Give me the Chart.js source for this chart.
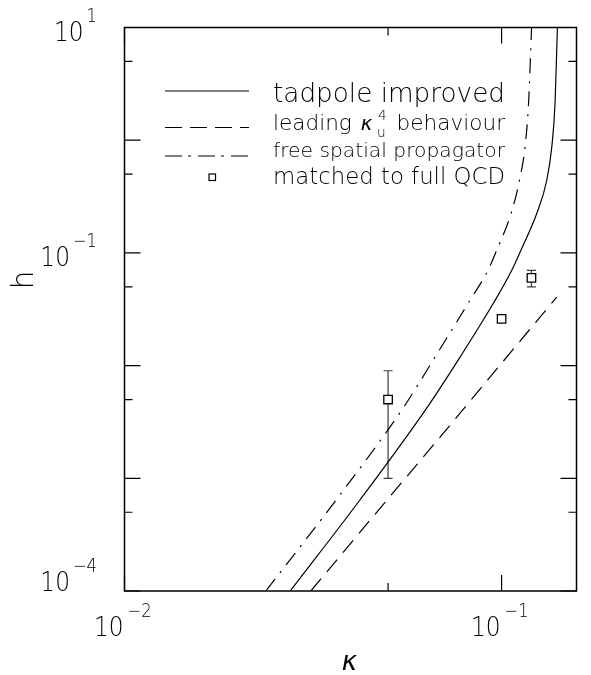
<!DOCTYPE html>
<html>
<head>
<meta charset="utf-8">
<script src="https://cdn.jsdelivr.net/npm/chart.js@4.4.1/dist/chart.umd.min.js"></script>
<style>
    html, body { margin: 0; padding: 0; background: #ffffff; }
    #chart { display: block; }
</style>
</head>
<body>
<canvas id="chart" width="591" height="675"></canvas>
<script>
/*
============================================================
Data
============================================================
*/

// tadpole improved (solid)
const tadpoleKappa = [0.0275, 0.0421, 0.0633, 0.0776, 0.0951, 0.1065, 0.1126, 0.124, 0.1318, 0.1359, 0.1386, 0.1406];
const tadpoleH = [1.0e-4, 6.42e-4, 4.2e-3, 1.19e-2, 3.57e-2, 7.05e-2, 0.106, 0.2245, 0.4435, 0.876, 2.125, 10];

// leading kappa_u^4 behaviour (dashed)
const leadingKappa = [0.0312, 0.05, 0.07, 0.1, 0.14];
const leadingH = [1.0e-4, 6.6e-4, 2.5e-3, 1.05e-2, 4.05e-2];

// free spatial propagator (dash-dot)
const freeKappa = [0.0237, 0.0364, 0.0548, 0.0666, 0.0815, 0.0921, 0.0971, 0.106, 0.1116, 0.1154, 0.1179, 0.1201];
const freeH = [1.0e-4, 6.42e-4, 4.2e-3, 1.19e-2, 3.57e-2, 7.05e-2, 0.106, 0.2245, 0.4435, 0.876, 2.125, 10];

// matched to full QCD (squares with error bars)
const qcdKappa = [0.05, 0.1, 0.12];
const qcdH = [0.005, 0.026, 0.06];
const qcdLow = [0.001, null, 0.05];
const qcdHigh = [0.009, null, 0.07];

// ticks and labels
const xTickValues = [0.01, 0.05, 0.1];
const yTickValues = [1e-4, 5e-4, 1e-3, 5e-3, 1e-2, 5e-2, 0.1, 0.5, 1, 5, 10];
const xLabelValues = [0.01, 0.1];
const xLabelExps = ["\u22122", "\u22121"];
const yLabelValues = [10, 0.1, 1e-4];
const yLabelExps = ["1", "\u22121", "\u22124"];

/*
============================================================
Styles
============================================================
*/

const FONT = "\"DejaVu Sans\", sans-serif";
const THIN = "200";
const INK = "#000000";
const DASH = [16, 9];
const DASH_DOT = [15, 8, 2, 8];

function points(xs, ys) {
    return xs.map((x, i) => ({ x: x, y: ys[i] }));
}

function isDecade(v) {
    const l = Math.log10(v);
    return Math.abs(l - Math.round(l)) < 1e-6;
}

/*
============================================================
Text helpers
============================================================
*/

// a line made of runs, stretched to a given width
function drawRuns(ctx, runs, x, y, width) {
    let total = 0;
    runs.forEach(r => {
        ctx.font = r.font;
        r.w = ctx.measureText(r.text).width + (r.gap || 0);
        if (!r.stay) total += r.w;
    });
    const sx = width / total;
    ctx.save();
    ctx.translate(x, y);
    ctx.scale(sx, 1);
    let cx = 0;
    runs.forEach(r => {
        ctx.font = r.font;
        ctx.fillText(r.text, cx + (r.dx || 0), r.dy || 0);
        if (!r.stay) cx += r.w;
    });
    ctx.restore();
}

// a word squeezed horizontally, left edge at x
function drawSqueezed(ctx, text, font, x, y, sx) {
    ctx.font = font;
    ctx.save();
    ctx.translate(x, y);
    ctx.scale(sx, 1);
    ctx.textAlign = "left";
    ctx.fillText(text, 0, 0);
    ctx.restore();
}

function widthOf(ctx, text, font, sx) {
    ctx.font = font;
    return ctx.measureText(text).width * sx;
}

/*
============================================================
Frame, ticks, labels, legend
============================================================
*/

const decorations = {
    id: "decorations",

    beforeDatasetsDraw(chart) {
        const ctx = chart.ctx;
        const xs = chart.scales.x;
        const ys = chart.scales.y;
        ctx.save();
        ctx.strokeStyle = "#3a3a3a";
        ctx.lineWidth = 1.2;
        qcdKappa.forEach((k, i) => {
            if (qcdLow[i] === null) return;
            const px = xs.getPixelForValue(k);
            const y1 = ys.getPixelForValue(qcdLow[i]);
            const y2 = ys.getPixelForValue(qcdHigh[i]);
            ctx.beginPath();
            ctx.moveTo(px, y1);
            ctx.lineTo(px, y2);
            ctx.moveTo(px - 4.5, y1);
            ctx.lineTo(px + 4.5, y1);
            ctx.moveTo(px - 4.5, y2);
            ctx.lineTo(px + 4.5, y2);
            ctx.stroke();
        });
        ctx.restore();
    },

    afterDraw(chart) {
        const ctx = chart.ctx;
        const a = chart.chartArea;
        const xs = chart.scales.x;
        const ys = chart.scales.y;

        ctx.save();
        ctx.strokeStyle = INK;
        ctx.fillStyle = INK;

        // frame
        ctx.lineWidth = 1.5;
        ctx.strokeRect(a.left, a.top, a.right - a.left, a.bottom - a.top);

        // ticks on all four sides, pointing in
        ctx.lineWidth = 1.2;
        ctx.beginPath();
        xTickValues.forEach(v => {
            const px = xs.getPixelForValue(v);
            const len = isDecade(v) ? 16 : 8;
            ctx.moveTo(px, a.bottom);
            ctx.lineTo(px, a.bottom - len);
            ctx.moveTo(px, a.top);
            ctx.lineTo(px, a.top + len);
        });
        yTickValues.forEach(v => {
            const py = ys.getPixelForValue(v);
            const len = isDecade(v) ? 16 : 8;
            ctx.moveTo(a.left, py);
            ctx.lineTo(a.left + len, py);
            ctx.moveTo(a.right, py);
            ctx.lineTo(a.right - len, py);
        });
        ctx.stroke();

        const big = THIN + " 27px " + FONT;
        const small = THIN + " 19px " + FONT;
        const sq = 0.86;

        // x tick labels: "10" ends at the tick, exponent to the right
        ctx.textBaseline = "alphabetic";
        xLabelValues.forEach((v, i) => {
            const px = xs.getPixelForValue(v);
            const w = widthOf(ctx, "10", big, sq);
            drawSqueezed(ctx, "10", big, px - 1 - w, 636, sq);
            drawSqueezed(ctx, xLabelExps[i], small, px + 3, 617, sq);
        });

        // y tick labels, right aligned left of the axis
        yLabelValues.forEach((v, i) => {
            const py = ys.getPixelForValue(v);
            const base = Math.min(py + 13, a.bottom);
            const ew = widthOf(ctx, yLabelExps[i], small, sq);
            drawSqueezed(ctx, yLabelExps[i], small, 97 - ew, base - 19, sq);
            const w = widthOf(ctx, "10", big, sq);
            drawSqueezed(ctx, "10", big, 97 - ew - 3 - w, base, sq);
        });

        // axis titles
        ctx.textAlign = "center";
        ctx.font = "italic 26px " + FONT;
        ctx.fillText("\u03BA", (a.left + a.right) / 2 - 1, 670);
        ctx.save();
        ctx.translate(33, 280);
        ctx.rotate(-Math.PI / 2);
        ctx.font = THIN + " 30px " + FONT;
        ctx.fillText("h", 0, 0);
        ctx.restore();

        // legend samples
        ctx.lineWidth = 1.2;
        ctx.beginPath();
        ctx.moveTo(165, 91);
        ctx.lineTo(249, 91);
        ctx.stroke();
        ctx.setLineDash([17, 8]);
        ctx.beginPath();
        ctx.moveTo(165, 127.5);
        ctx.lineTo(249, 127.5);
        ctx.stroke();
        ctx.setLineDash([17, 6, 3, 7]);
        ctx.beginPath();
        ctx.moveTo(165, 156);
        ctx.lineTo(249, 156);
        ctx.stroke();
        ctx.setLineDash([]);
        ctx.lineWidth = 1.2;
        ctx.strokeRect(209, 174, 6.5, 6.5);

        // legend text
        ctx.textAlign = "left";
        const f = (size, style) => (style || "") + " " + THIN + " " + size + "px " + FONT;
        drawRuns(ctx, [{ text: "tadpole improved", font: f(26) }], 273, 102, 232);
        drawRuns(ctx, [
            { text: "leading ", font: f(22), gap: 2 },
            { text: "\u03BA", font: "italic 20px " + FONT, gap: 5 },
            { text: "u", font: f(14), dy: 7, stay: true },
            { text: "4", font: f(14), dx: 1, dy: -10, gap: 4 },
            { text: " behaviour", font: f(22) }
        ], 273, 130, 232);
        drawRuns(ctx, [{ text: "free spatial propagator", font: f(20) }], 273, 157, 232);
        drawRuns(ctx, [{ text: "matched to full QCD", font: f(23) }], 273, 184, 232);

        ctx.restore();
    }
};

/*
============================================================
Chart
============================================================
*/

const canvas = document.getElementById("chart");

new Chart(canvas, {
    type: "scatter",
    data: {
        datasets: [
            {
                label: "tadpole improved",
                data: points(tadpoleKappa, tadpoleH),
                showLine: true,
                borderColor: INK,
                borderWidth: 1.2,
                pointRadius: 0,
                cubicInterpolationMode: "monotone"
            },
            {
                label: "leading kappa_u^4 behaviour",
                data: points(leadingKappa, leadingH),
                showLine: true,
                borderColor: INK,
                borderWidth: 1.2,
                borderDash: DASH,
                pointRadius: 0
            },
            {
                label: "free spatial propagator",
                data: points(freeKappa, freeH),
                showLine: true,
                borderColor: INK,
                borderWidth: 1.2,
                borderDash: DASH_DOT,
                pointRadius: 0,
                cubicInterpolationMode: "monotone"
            },
            {
                label: "matched to full QCD",
                data: points(qcdKappa, qcdH),
                showLine: false,
                pointStyle: "rect",
                pointRadius: 6,
                pointBackgroundColor: "#ffffff",
                pointBorderColor: INK,
                pointBorderWidth: 1.3
            }
        ]
    },
    options: {
        responsive: false,
        animation: false,
        devicePixelRatio: 1,
        layout: {
            padding: { left: 124.5, right: 14.5, top: 27.5, bottom: 84 }
        },
        plugins: {
            legend: { display: false },
            tooltip: { enabled: false }
        },
        scales: {
            x: { type: "logarithmic", min: 0.01, max: 0.158, display: false },
            y: { type: "logarithmic", min: 1e-4, max: 10, display: false }
        }
    },
    plugins: [decorations]
});
</script>
</body>
</html>
